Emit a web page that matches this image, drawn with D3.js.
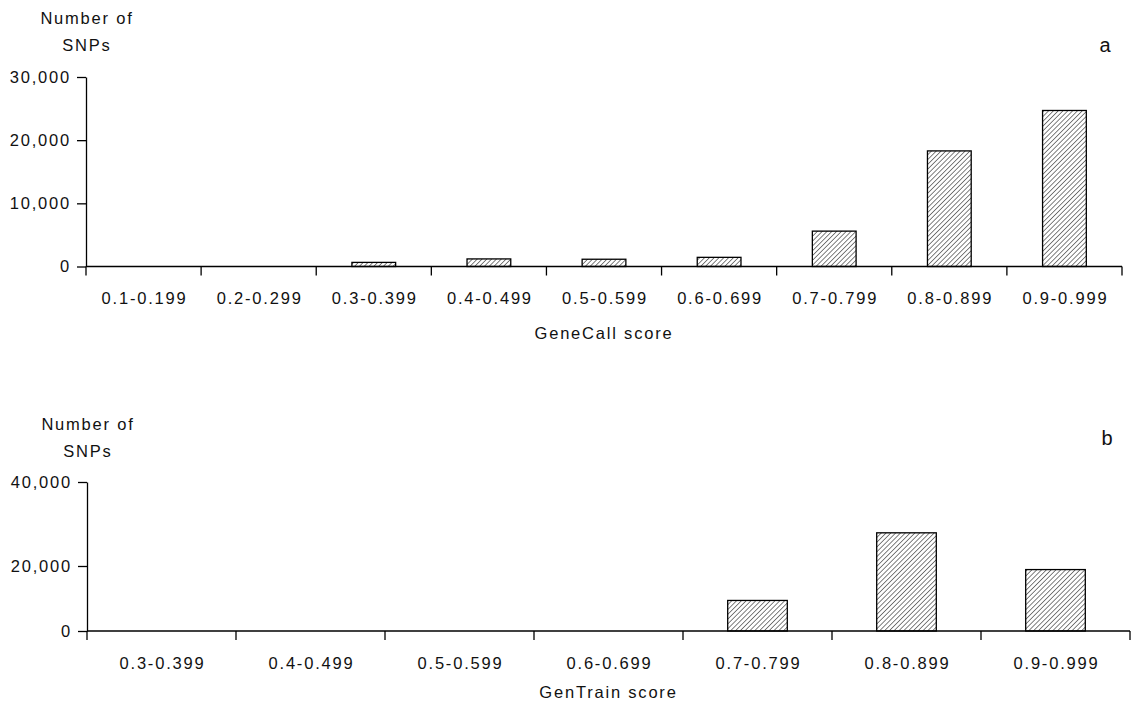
<!DOCTYPE html>
<html>
<head>
<meta charset="utf-8">
<script src="https://cdn.jsdelivr.net/npm/d3@7"></script>
<style>
  body { margin:0; background:#fff; }
  text { font-family:"Liberation Sans", Arial, sans-serif; fill:#111; }
  .tick text, .lab { letter-spacing:1.8px; }
</style>
</head>
<body>
<svg id="chart"></svg>
<script>
//GeneCall score bins (panel a)
var catsA = ["0.1-0.199","0.2-0.299","0.3-0.399","0.4-0.499","0.5-0.599",
             "0.6-0.699","0.7-0.799","0.8-0.899","0.9-0.999"]
var valsA = [0, 0, 650, 1200, 1150, 1450, 5600, 18300, 24700]
var ticksA = [0, 10000, 20000, 30000]

//GenTrain score bins (panel b)
var catsB = ["0.3-0.399","0.4-0.499","0.5-0.599","0.6-0.699",
             "0.7-0.799","0.8-0.899","0.9-0.999"]
var valsB = [0, 0, 0, 0, 9400, 27900, 18900]
var ticksB = [0, 20000, 40000]

var screen = {width:1131, height:704}

var svg = d3.select("#chart")
    .attr("width", screen.width)
    .attr("height", screen.height)

//hatch fill
var defs = svg.append("defs")
defs.append("pattern")
    .attr("id","hatch")
    .attr("patternUnits","userSpaceOnUse")
    .attr("width",3.4)
    .attr("height",3.4)
    .attr("patternTransform","rotate(45)")
  .append("line")
    .attr("x1",0).attr("y1",0)
    .attr("x2",0).attr("y2",3.4)
    .attr("stroke","#000")
    .attr("stroke-width",1)

//draws one panel. p holds the layout of the panel
var drawPanel = function(cats, vals, ticks, p)
{
    var xScale = d3.scaleBand()
        .domain(cats)
        .range([p.left, p.right])
        .paddingInner(p.pad)
        .paddingOuter(p.pad/2)

    var yScale = d3.scaleLinear()
        .domain(p.ydomain)
        .range(p.yrange)

    var g = svg.append("g")

    //bars
    g.selectAll("rect")
     .data(vals)
     .enter()
     .append("rect")
     .attr("x", function(d,i) { return xScale(cats[i]) })
     .attr("y", function(d) { return yScale(d) })
     .attr("width", xScale.bandwidth())
     .attr("height", function(d) { return yScale(0) - yScale(d) })
     .attr("fill", "url(#hatch)")
     .attr("stroke", "#000")
     .attr("stroke-width", 1.3)

    //y axis
    var yAxis = d3.axisLeft(yScale)
        .tickValues(ticks)
        .tickSize(9)
        .tickSizeOuter(0)
        .tickPadding(6)
        .tickFormat(d3.format(","))
    var ya = g.append("g")
        .attr("transform","translate("+p.left+",0)")
        .call(yAxis)
    ya.selectAll("text").style("font-size","16.5px").style("fill","#111")
    ya.select(".domain").attr("stroke-width",1.3)
    ya.selectAll(".tick line").attr("stroke-width",1.3)

    //x axis line and boundary ticks
    var base = yScale(0)
    g.append("line")
     .attr("x1", p.left).attr("x2", p.right)
     .attr("y1", base).attr("y2", base)
     .attr("stroke","#000").attr("stroke-width",1.3)

    var half = (xScale.step() - xScale.bandwidth())/2
    var bounds = cats.map(function(c) { return xScale(c) - half })
    bounds.push(p.right)
    g.selectAll(".xtick")
     .data(bounds)
     .enter()
     .append("line")
     .attr("class","xtick")
     .attr("x1", function(d) { return d }).attr("x2", function(d) { return d })
     .attr("y1", base).attr("y2", base + 9)
     .attr("stroke","#000").attr("stroke-width",1.3)

    //category labels
    g.selectAll(".lab")
     .data(cats)
     .enter()
     .append("text")
     .attr("class","lab")
     .attr("x", function(d) { return xScale(d) + xScale.bandwidth()/2 + 1 })
     .attr("y", base + 37.5)
     .attr("text-anchor","middle")
     .style("font-size","16.5px")
     .text(function(d) { return d })

    //x title
    g.append("text")
     .attr("class","lab")
     .attr("x", (p.left + p.right)/2)
     .attr("y", base + p.xtitleDy)
     .attr("text-anchor","middle")
     .style("font-size","16.5px")
     .text(p.xtitle)

    //y title
    var yt = g.append("text")
     .attr("class","lab")
     .attr("text-anchor","middle")
     .style("font-size","16.5px")
    yt.append("tspan").attr("x", p.left + 1).attr("y", p.ytitleY).text("Number of")
    yt.append("tspan").attr("x", p.left + 1).attr("y", p.ytitleY + 27).text("SNPs")

    //panel letter
    g.append("text")
     .attr("x", p.letterX)
     .attr("y", p.letterY)
     .attr("text-anchor","middle")
     .style("font-size","20px")
     .text(p.letter)
}

drawPanel(catsA, valsA, ticksA, {
    left:86, right:1122, pad:0.62,
    ydomain:[0,30000], yrange:[266.5,77],
    xtitle:"GeneCall score", xtitleDy:72, ytitleY:24,
    letter:"a", letterX:1105, letterY:52
})

drawPanel(catsB, valsB, ticksB, {
    left:87, right:1130, pad:0.6,
    ydomain:[0,20000,40000], yrange:[631,566,482],
    xtitle:"GenTrain score", xtitleDy:67, ytitleY:430,
    letter:"b", letterX:1107, letterY:445
})
</script>
</body>
</html>
